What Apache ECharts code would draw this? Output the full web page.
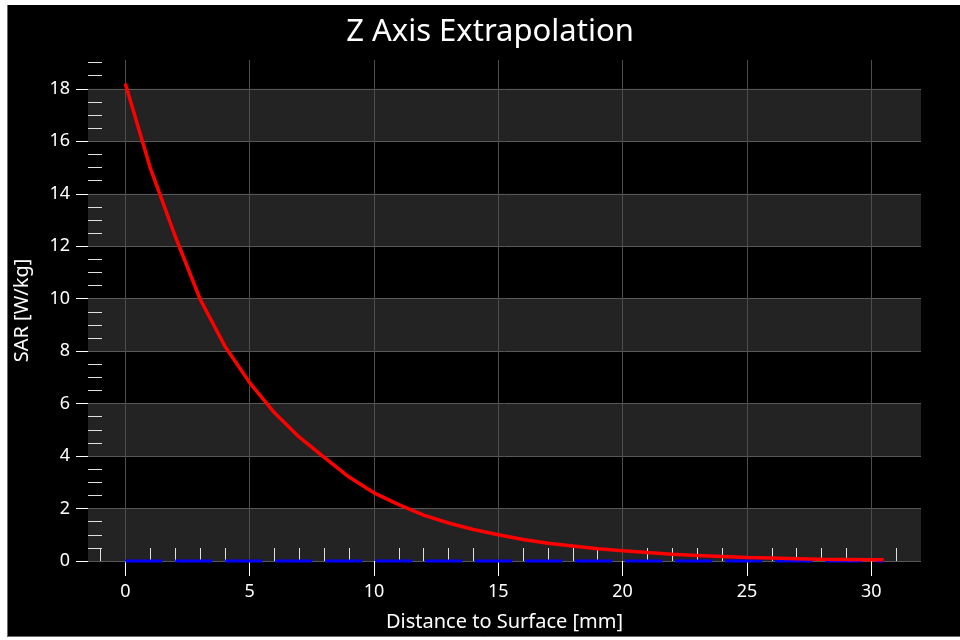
<!DOCTYPE html>
<html>
<head>
<meta charset="utf-8">
<script src="https://cdn.jsdelivr.net/npm/echarts@6/dist/echarts.min.js"></script>
<style>
html,body{margin:0;padding:0;background:#fff;}
#chart{width:960px;height:640px;}
</style>
</head>
<body>
<div id="chart"></div>
<script>
// ---- data ----
var distance = [0, 1, 2, 3, 4, 5, 6, 7, 8, 9, 10, 11, 12, 13, 14, 15, 16, 17, 18, 19, 20, 21, 22, 23, 24, 25, 26, 27, 28, 29, 30, 30.5];
var sar = [18.2, 15.0, 12.4, 10.0, 8.2, 6.8, 5.65, 4.72, 3.95, 3.2, 2.6, 2.15, 1.75, 1.45, 1.2, 1.0, 0.82, 0.68, 0.57, 0.47, 0.39, 0.32, 0.26, 0.21, 0.17, 0.13, 0.11, 0.09, 0.07, 0.06, 0.05, 0.05];
var baselineX = [0, 30.5];
var baselineY = [0, 0];

var xTicks = [0, 5, 10, 15, 20, 25, 30];
var xMinorTicks = [-1, 1, 2, 3, 4, 6, 7, 8, 9, 11, 12, 13, 14, 16, 17, 18, 19, 21, 22, 23, 24, 26, 27, 28, 29, 31];
var yTicks = [0, 2, 4, 6, 8, 10, 12, 14, 16, 18];
var yMinorTicks = [0.5, 1, 1.5, 2.5, 3, 3.5, 4.5, 5, 5.5, 6.5, 7, 7.5, 8.5, 9, 9.5, 10.5, 11, 11.5, 12.5, 13, 13.5, 14.5, 15, 15.5, 16.5, 17, 17.5, 18.5, 19];

var xMin = -1.5, xMax = 32;
var yMin = 0, yMax = 19.1;

var titleText = 'Z Axis Extrapolation';
var xName = 'Distance to Surface [mm]';
var yName = 'SAR [W/kg]';
// --------------------------------------

function pairs(xs, ys) {
  var out = [];
  for (var i = 0; i < xs.length; i++) out.push([xs[i], ys[i]]);
  return out;
}

var FONT = 'Noto Sans';
var chart = echarts.init(document.getElementById('chart'), null, {renderer: 'canvas'});
var option = {
  animation: false,
  backgroundColor: '#000',
  graphic: [
    {type: 'rect', shape: {x: 0, y: 0, width: 960, height: 5}, style: {fill: '#fff'}, silent: true},
    {type: 'rect', shape: {x: 0, y: 0, width: 7, height: 640}, style: {fill: '#fff'}, silent: true},
    {type: 'rect', shape: {x: 0, y: 637, width: 960, height: 3}, style: {fill: '#fff'}, silent: true},
    {type: 'line', shape: {x1: 7, y1: 636.5, x2: 960, y2: 636.5}, style: {stroke: '#6a6a6a', lineWidth: 1}, silent: true},
    {type: 'line', shape: {x1: 7.5, y1: 5, x2: 7.5, y2: 637}, style: {stroke: '#6a6a6a', lineWidth: 1}, silent: true}
  ],
  title: {
    text: titleText,
    left: 485,
    top: 12,
    textAlign: 'center',
    textStyle: {color: '#fff', fontFamily: FONT, fontSize: 31, fontWeight: 'normal'}
  },
  grid: {left: 88, right: 39, top: 60, bottom: 79, containLabel: false},
  xAxis: [
    {
      type: 'value', min: xMin, max: xMax, position: 'bottom',
      name: xName, nameLocation: 'middle', nameGap: 51,
      nameTextStyle: {color: '#fff', fontFamily: FONT, fontSize: 20},
      axisLine: {show: false, onZero: false},
      axisTick: {show: true, customValues: xTicks, length: 15, inside: false, lineStyle: {color: '#fff', width: 1}},
      axisLabel: {show: true, customValues: xTicks, margin: 22, color: '#fff', fontFamily: FONT, fontSize: 18},
      splitLine: {show: true, lineStyle: {color: '#4d4d4d', width: 1}},
      splitArea: {show: false}
    },
    {
      type: 'value', min: xMin, max: xMax, position: 'bottom',
      axisLine: {show: false, onZero: false},
      axisTick: {show: true, customValues: xMinorTicks, length: 13, inside: true, lineStyle: {color: '#e0e0e0', width: 1}},
      axisLabel: {show: false},
      splitLine: {show: false},
      splitArea: {show: false}
    }
  ],
  yAxis: [
    {
      type: 'value', min: yMin, max: yMax, position: 'left',
      name: yName, nameLocation: 'middle', nameGap: 56, nameRotate: 90,
      nameTextStyle: {color: '#fff', fontFamily: FONT, fontSize: 20},
      axisLine: {show: false, onZero: false},
      axisTick: {show: true, customValues: yTicks, length: 12, inside: false, lineStyle: {color: '#fff', width: 1}},
      axisLabel: {show: true, customValues: yTicks, margin: 18, color: '#fff', fontFamily: FONT, fontSize: 18},
      splitLine: {show: true, lineStyle: {color: '#585858', width: 1}},
      splitArea: {show: true, areaStyle: {color: ['#232323', 'rgba(0,0,0,0)']}}
    },
    {
      type: 'value', min: yMin, max: yMax, position: 'left',
      axisLine: {show: false, onZero: false},
      axisTick: {show: true, customValues: yMinorTicks, length: 14, inside: true, lineStyle: {color: '#e0e0e0', width: 1}},
      axisLabel: {show: false},
      splitLine: {show: false},
      splitArea: {show: false}
    }
  ],
  series: [
    {
      type: 'line', xAxisIndex: 0, yAxisIndex: 0,
      data: pairs(baselineX, baselineY),
      symbol: 'none', silent: true, clip: false,
      lineStyle: {color: '#0000ff', width: 3, type: [37, 13]},
      z: 3
    },
    {
      type: 'line', xAxisIndex: 0, yAxisIndex: 0,
      data: pairs(distance, sar),
      symbol: 'none', silent: true, clip: false,
      lineStyle: {color: '#ff0000', width: 3.5},
      z: 4
    }
  ]
};
chart.setOption(option);
</script>
</body>
</html>
